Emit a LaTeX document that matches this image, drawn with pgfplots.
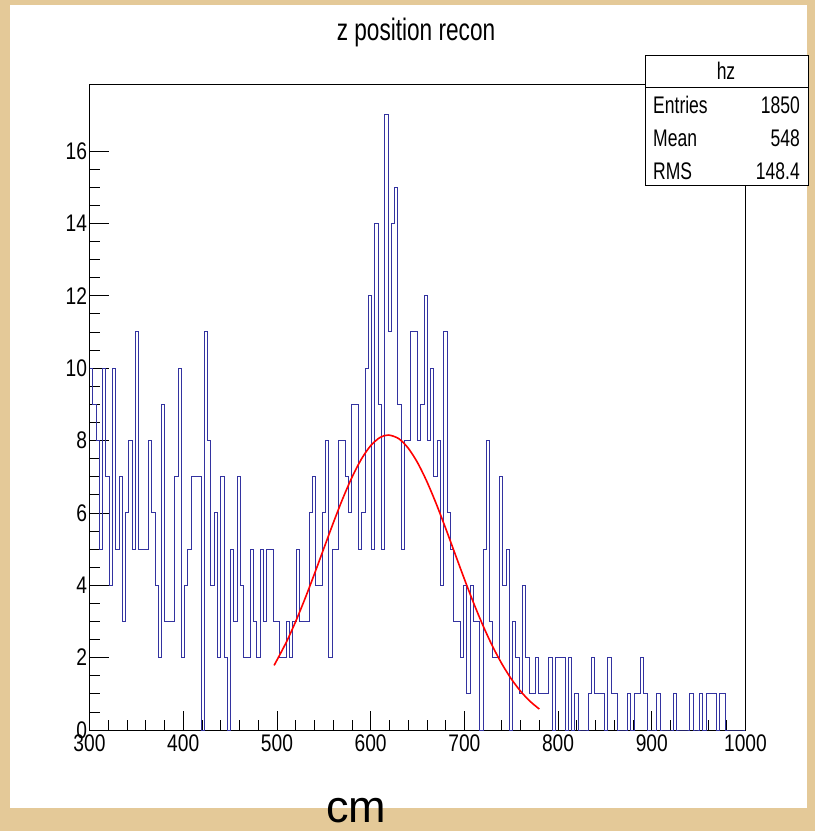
\documentclass[border=0pt]{standalone}
\usepackage{fontspec}
\setmainfont{Liberation Sans}
\newfontfamily\narrowfont[FakeStretch=0.8]{Liberation Sans}
\newfontfamily\condfont[FakeStretch=0.73]{Liberation Sans}
\usepackage{pgfplots}
\pgfplotsset{compat=1.18}
\usepackage{pgfplotstable}
\definecolor{beige}{RGB}{228,201,152}
\definecolor{histblue}{RGB}{51,51,160}
\pgfplotstableread{
x y
300 10
303.5 9
307 8
310.5 5
314 10
317.5 7
321 4
324.5 10
328 5
331.5 7
335 3
338.5 6
342 8
345.5 5
349 11
352.5 5
356 5
359.5 5
363 8
366.5 6
370 4
373.5 2
377 9
380.5 3
384 3
387.5 3
391 7
394.5 10
398 2
401.5 4
405 5
408.5 7
412 7
415.5 7
419 0
422.5 11
426 8
429.5 4
433 6
436.5 2
440 7
443.5 2
447 0
450.5 5
454 3
457.5 7
461 4
464.5 2
468 2
471.5 5
475 3
478.5 2
482 5
485.5 3
489 5
492.5 5
496 3
499.5 3
503 2
506.5 2
510 3
513.5 2
517 3
520.5 5
524 3
527.5 3
531 3
534.5 6
538 7
541.5 4
545 4
548.5 6
552 8
555.5 2
559 5
562.5 5
566 8
569.5 8
573 7
576.5 6
580 9
583.5 9
587 5
590.5 6
594 10
597.5 12
601 5
604.5 14
608 9
611.5 5
615 17
618.5 11
622 14
625.5 15
629 9
632.5 5
636 8
639.5 8
643 11
646.5 11
650 8
653.5 9
657 12
660.5 8
664 10
667.5 7
671 8
674.5 4
678 11
681.5 6
685 5
688.5 3
692 3
695.5 2
699 4
702.5 1
706 4
709.5 3
713 3
716.5 0
720 5
723.5 8
727 3
730.5 2
734 2
737.5 7
741 4
744.5 5
748 0
751.5 3
755 2
758.5 1
762 4
765.5 2
769 1
772.5 1
776 2
779.5 1
783 1
786.5 1
790 2
793.5 0
797 2
800.5 2
804 2
807.5 0
811 2
814.5 0
818 1
821.5 0
825 0
828.5 0
832 1
835.5 2
839 1
842.5 1
846 1
849.5 0
853 2
856.5 1
860 1
863.5 0
867 0
870.5 0
874 1
877.5 0
881 1
884.5 1
888 2
891.5 1
895 0
898.5 0
902 0
905.5 1
909 0
912.5 0
916 0
919.5 0
923 1
926.5 0
930 0
933.5 0
937 0
940.5 1
944 0
947.5 0
951 1
954.5 0
958 1
961.5 1
965 1
968.5 0
972 1
975.5 1
979 0
982.5 0
986 0
989.5 0
993 0
996.5 0
1000 0
}\histdata
\newcommand\tickfont{\narrowfont\fontsize{24bp}{24bp}\selectfont}
\begin{document}
\begin{tikzpicture}
\fill[beige] (0,0) rectangle (815bp,831bp);
\fill[white] (10bp,23bp) rectangle (807bp,826bp);
\begin{axis}[
  at={(89.5bp,101bp)}, anchor=south west,
  scale only axis, width=656bp, height=646bp,
  xmin=300, xmax=1000, ymin=0, ymax=17.85,
  xtick={300,400,...,1000}, ytick={0,2,...,16},
  minor x tick num=4, minor y tick num=3,
  xtick pos=left, ytick pos=left,
  tick align=inside,
  major tick length=19bp, minor tick length=10bp,
  every tick/.style={black, line width=0.7bp},
  axis line style={black, line width=0.8bp},
  tick label style={font=\tickfont},
  xticklabel style={yshift=-1bp},
  yticklabel style={xshift=1bp},
  /pgf/number format/assume math mode=true,
  /pgf/number format/1000 sep={},
  clip=false,
]
\addplot[const plot, histblue, line width=0.9bp] table[x=x,y=y] {\histdata};
\addplot[red, line width=1.6bp, smooth] coordinates {
(497,1.785) (510,2.425) (520,2.998) (530,3.632) (540,4.311) (550,5.014)
(560,5.713) (570,6.379) (580,6.978) (590,7.480) (600,7.855) (610,8.083)
(619,8.15) (630,8.050) (640,7.791) (650,7.389) (660,6.865) (670,6.250)
(680,5.575) (690,4.873) (700,4.173) (710,3.501) (720,2.878) (730,2.318)
(740,1.830) (750,1.415) (760,1.072) (770,0.795) (780,0.579)};
\end{axis}
\node[font=\condfont\fontsize{31bp}{31bp}\selectfont] at (416bp,799bp) {z position recon};
\node[font=\fontsize{45bp}{45bp}\selectfont] at (356bp,20bp) {cm};
\draw[line width=0.8bp, fill=white] (645bp,646bp) rectangle (808bp,776bp);
\draw[line width=0.8bp] (645bp,744bp) -- (808bp,744bp);
\begin{scope}[every node/.style={font=\condfont\fontsize{24bp}{24bp}\selectfont, inner sep=0pt}]
\node at (726bp,760bp) {hz};
\node[anchor=west] at (653bp,726bp) {Entries};
\node[anchor=east] at (800bp,726bp) {1850};
\node[anchor=west] at (653bp,693bp) {Mean};
\node[anchor=east] at (800bp,693bp) {548};
\node[anchor=west] at (653bp,660bp) {RMS};
\node[anchor=east] at (800bp,660bp) {148.4};
\end{scope}
\pgfresetboundingbox
\path (0,0) rectangle (815bp,831bp);
\end{tikzpicture}
\end{document}
